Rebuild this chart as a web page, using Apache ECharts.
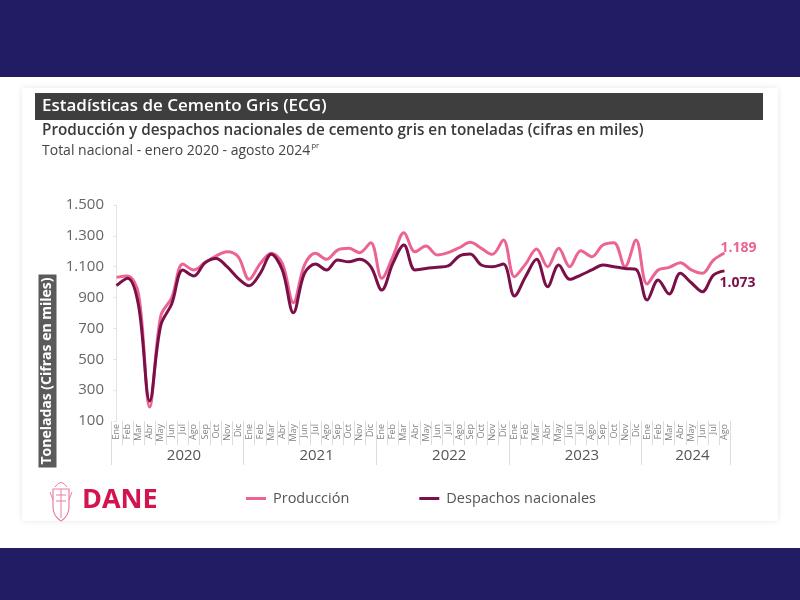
<!DOCTYPE html>
<html><head><meta charset="utf-8">
<script src="https://cdn.jsdelivr.net/npm/echarts@6/dist/echarts.min.js"></script>
<style>html,body{margin:0;padding:0;background:#fff}#c{width:800px;height:600px}</style>
</head><body><div id="c"></div><script>
const monthNames = ['Ene','Feb','Mar','Abr','May','Jun','Jul','Ago','Sep','Oct','Nov','Dic'];
const years = ['2020','2021','2022','2023','2024'];
const monthsPerYear = [12,12,12,12,8];
const produccion = [1031,1040,920,190,780,900,1117,1079,1128,1169,1197,1165,
  1018,1120,1187,1122,867,1111,1187,1148,1208,1219,1191,1256,
  1025,1165,1320,1197,1234,1176,1191,1223,1258,1219,1180,1273,
  1035,1117,1215,1100,1219,1100,1204,1165,1241,1256,1100,1273,
  988,1079,1096,1126,1079,1057,1143,1189];
const despachos = [977,1025,845,230,720,860,1079,1040,1125,1154,1100,1025,
  977,1057,1180,1079,802,1057,1117,1079,1143,1132,1148,1100,
  949,1122,1241,1079,1089,1096,1105,1169,1182,1111,1100,1117,
  910,1035,1148,970,1111,1018,1046,1079,1111,1100,1089,1083,
  884,1014,923,1057,996,938,1046,1073];
const yTicks = [100,300,500,700,900,1100,1300,1500];

const categories = [];
const yearBounds = [-0.5];
const yearCenters = [];
let idx = 0;
years.forEach((y, k) => {
  const n = monthsPerYear[k];
  for (let m = 0; m < n; m++) categories.push(monthNames[m] + ' ' + y);
  yearCenters.push(idx + (n - 1) / 2 + 0.6);
  idx += n;
  yearBounds.push(idx - 0.5);
});
const fmt = v => String(Math.round(v)).replace(/\B(?=(\d{3})+(?!\d))/g, '.');
const PINK = '#EC6592', DARK = '#7B0F47';
const FONT = 'Open Sans';
const SH = '#E8809F';

const chart = echarts.init(document.getElementById('c'), null, {renderer: 'canvas'});
chart.setOption({
  backgroundColor: '#ffffff',
  animation: false,
  textStyle: {fontFamily: FONT},
  grid: {left: 111, right: 70, top: 205, bottom: 179, containLabel: false},
  legend: {
    data: ['Producción', 'Despachos nacionales'],
    left: 241, top: 486, icon: 'rect', itemWidth: 20, itemHeight: 3, itemGap: 70,
    textStyle: {fontSize: 14.5, color: '#555', fontFamily: FONT, padding: [0, 0, 0, 2]}
  },
  xAxis: [{
    type: 'category', data: categories, boundaryGap: true,
    axisLine: {show: false},
    axisTick: {show: true, interval: 0, length: 24, lineStyle: {color: '#dcdcdc'}},
    axisLabel: {interval: 0, rotate: 90, fontSize: 9, color: '#808080', margin: 3,
      formatter: v => v.split(' ')[0]},
    splitLine: {show: false}
  }, {
    type: 'value', min: -0.5, max: 55.5, position: 'bottom',
    axisLine: {show: false}, splitLine: {show: false},
    axisTick: {show: true, customValues: yearBounds, length: 44, lineStyle: {color: '#dcdcdc'}},
    axisLabel: {customValues: yearCenters, fontSize: 15, color: '#555', margin: 27,
      formatter: v => years[Math.min(4, Math.floor((v + 0.5) / 12))]}
  }],
  yAxis: {
    type: 'value', min: 100, max: 1500,
    axisLine: {show: true, lineStyle: {color: '#e3e3e3'}},
    axisTick: {show: true, customValues: yTicks, length: 3, lineStyle: {color: '#e3e3e3'}},
    axisLabel: {customValues: yTicks, formatter: fmt, fontSize: 15, color: '#666', margin: 7},
    splitLine: {show: false}
  },
  series: [{
    name: 'Producción', type: 'line', data: produccion, smooth: 0.35, symbol: 'none',
    lineStyle: {width: 3, color: PINK}, itemStyle: {color: PINK},
    endLabel: {show: true, formatter: p => fmt(p.value), fontSize: 14, fontWeight: 'bold',
      color: PINK, offset: [-12, -5]}
  }, {
    name: 'Despachos nacionales', type: 'line', data: despachos, smooth: 0.35, symbol: 'none',
    lineStyle: {width: 3, color: DARK}, itemStyle: {color: DARK},
    endLabel: {show: true, formatter: p => fmt(p.value), fontSize: 14, fontWeight: 'bold',
      color: DARK, offset: [-13, 12]}
  }],
  graphic: [
    {type: 'rect', z: -10, shape: {x: 0, y: 0, width: 800, height: 77}, style: {fill: '#211C64'}},
    {type: 'rect', z: -10, shape: {x: 0, y: 548, width: 800, height: 52}, style: {fill: '#211C64'}},
    {type: 'rect', z: -9, shape: {x: 22, y: 88, width: 756, height: 433},
      style: {fill: '#fff', shadowBlur: 6, shadowColor: 'rgba(0,0,0,0.10)'}},
    {type: 'rect', z: -8, shape: {x: 35, y: 93, width: 728, height: 27}, style: {fill: '#3E3E3E'}},
    {type: 'text', x: 42, y: 106.5, style: {text: 'Estadísticas de Cemento Gris (ECG)', fill: '#fff',
      font: '600 17px "Open Sans"', verticalAlign: 'middle'}},
    {type: 'text', x: 42, y: 131, style: {text: 'Producción y despachos nacionales de cemento gris en toneladas (cifras en miles)',
      fill: '#3a3a3a', font: '600 15.3px "Open Sans"', verticalAlign: 'middle'}},
    {type: 'text', x: 42, y: 151, style: {
      text: '{a|Total nacional - enero 2020 - agosto 2024}{s|pr}',
      verticalAlign: 'middle',
      rich: {a: {fontSize: 14, fontFamily: FONT, fill: '#444', color: '#444', lineHeight: 18},
             s: {fontSize: 8, fontFamily: FONT, fill: '#444', color: '#444', verticalAlign: 'top', lineHeight: 18, padding: [0,0,6,1]}}}},
    {type: 'text', x: 47.5, y: 371, rotation: Math.PI / 2,
      style: {text: 'Toneladas (Cifras en miles)', fill: '#fff', font: 'bold 14px "Open Sans"',
        align: 'center', verticalAlign: 'middle', backgroundColor: '#5B5B5B', padding: [2, 3, 2, 3]}},
    {type: 'polyline', shape: {points: [[53,507],[53,489],[69,489],[69,507]]},
      style: {fill: 'none', stroke: SH, lineWidth: 1.2}},
    {type: 'bezierCurve', shape: {x1: 53, y1: 507, x2: 61, y2: 521, cpx1: 53, cpy1: 516}, style: {stroke: SH, lineWidth: 1.2, fill: 'none'}},
    {type: 'bezierCurve', shape: {x1: 69, y1: 507, x2: 61, y2: 521, cpx1: 69, cpy1: 516}, style: {stroke: SH, lineWidth: 1.2, fill: 'none'}},
    {type: 'bezierCurve', shape: {x1: 55, y1: 487, x2: 67, y2: 487, cpx1: 61, cpy1: 478}, style: {stroke: SH, lineWidth: 1, fill: 'none'}},
    {type: 'line', shape: {x1: 56, y1: 495, x2: 66, y2: 495}, style: {stroke: SH, lineWidth: 1}},
    {type: 'line', shape: {x1: 56, y1: 501, x2: 66, y2: 501}, style: {stroke: SH, lineWidth: 1}},
    {type: 'line', shape: {x1: 61, y1: 489, x2: 61, y2: 518}, style: {stroke: SH, lineWidth: 1}},
    {type: 'line', shape: {x1: 50, y1: 492, x2: 53, y2: 500}, style: {stroke: SH, lineWidth: 1}},
    {type: 'line', shape: {x1: 72, y1: 492, x2: 69, y2: 500}, style: {stroke: SH, lineWidth: 1}},
    {type: 'text', x: 82, y: 500, style: {text: 'DANE', fill: '#D2144F', font: 'bold 27px "Open Sans"',
      verticalAlign: 'middle'}}
  ]
});
</script></body></html>
